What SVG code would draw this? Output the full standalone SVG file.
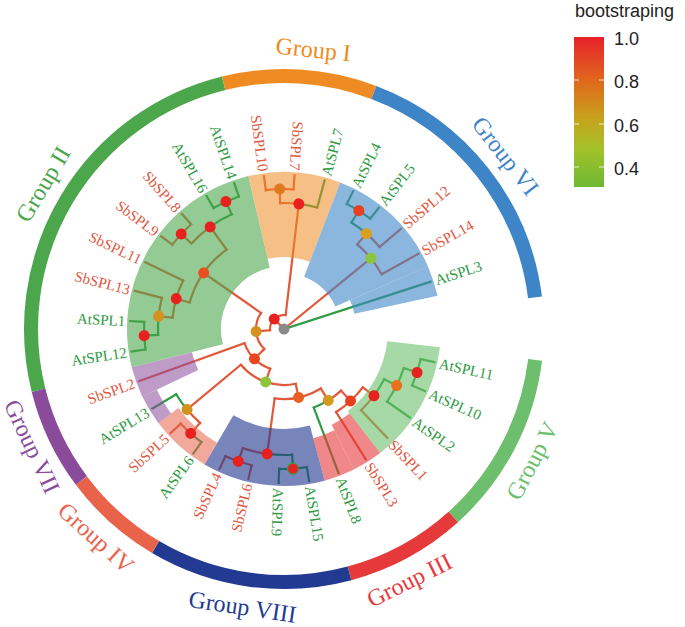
<svg xmlns="http://www.w3.org/2000/svg" width="685" height="627" viewBox="0 0 685 627">
<defs>
<linearGradient id="bs" x1="0" y1="0" x2="0" y2="1">
<stop offset="0" stop-color="#E8202A"/>
<stop offset="0.3" stop-color="#DF6A1C"/>
<stop offset="0.55" stop-color="#C6A41C"/>
<stop offset="0.75" stop-color="#A2C22A"/>
<stop offset="1" stop-color="#6CB832"/>
</linearGradient>
<style>
.e{fill:none;stroke-width:2.2;stroke-linecap:square}
.r{stroke:#E4583A}
.g{stroke:#2E9C45}
.hl{fill:none}
.ring{fill:none;stroke-width:14}
.sb{fill:#E2573F;font-family:"Liberation Serif",serif;font-size:15px}
.at{fill:#2F9A42;font-family:"Liberation Serif",serif;font-size:15px}
.grp{font-family:"Liberation Serif",serif;font-size:24px;text-anchor:middle;dominant-baseline:central}
.leg{font-family:"Liberation Sans",Arial,sans-serif;font-size:18px;fill:#222}
</style>
</defs>
<rect width="685" height="627" fill="#fff"/>
<g transform="translate(284,329)">
<!-- outer ring -->
<g id="ring">
<circle class="ring" r="253" stroke="#4CA64B" pathLength="360" stroke-dasharray="90.2 360" transform="rotate(166)"/>
<circle class="ring" r="253" stroke="#EE8B22" pathLength="360" stroke-dasharray="34.6 360" transform="rotate(256.2)"/>
<circle class="ring" r="253" stroke="#3D85C6" pathLength="360" stroke-dasharray="62 360" transform="rotate(290.8)"/>
<circle class="ring" r="253" stroke="#6DBF6D" pathLength="360" stroke-dasharray="41 360" transform="rotate(7)"/>
<circle class="ring" r="253" stroke="#E6393B" pathLength="360" stroke-dasharray="27 360" transform="rotate(48)"/>
<circle class="ring" r="253" stroke="#233A92" pathLength="360" stroke-dasharray="45.5 360" transform="rotate(75)"/>
<circle class="ring" r="253" stroke="#E8634A" pathLength="360" stroke-dasharray="22.7 360" transform="rotate(120.5)"/>
<circle class="ring" r="253" stroke="#8B4B9B" pathLength="360" stroke-dasharray="22.8 360" transform="rotate(143.2)"/>
</g>
<g id="edges">
<!-- arcs -->
<circle class="e r" r="14" pathLength="360" stroke-dasharray="101.95 360" transform="rotate(174.80)"/>
<circle class="e r" r="28" pathLength="360" stroke-dasharray="80.26 360" transform="rotate(134.67)"/>
<circle class="e r" r="42" pathLength="360" stroke-dasharray="51.08 360" transform="rotate(109.13)"/>
<circle class="e r" r="56" pathLength="360" stroke-dasharray="62.36 360" transform="rotate(77.95)"/>
<circle class="e r" r="70" pathLength="360" stroke-dasharray="39.44 360" transform="rotate(58.24)"/>
<circle class="e r" r="84" pathLength="360" stroke-dasharray="11.02 360" transform="rotate(47.22)"/>
<circle class="e g" r="84" pathLength="360" stroke-dasharray="11.01 360" transform="rotate(58.24)"/>
<circle class="e r" r="98" pathLength="360" stroke-dasharray="21.32 360" transform="rotate(36.56)"/>
<circle class="e g" r="112" pathLength="360" stroke-dasharray="9.95 360" transform="rotate(26.61)"/>
<circle class="e r" r="112" pathLength="360" stroke-dasharray="9.95 360" transform="rotate(36.56)"/>
<circle class="e g" r="126" pathLength="360" stroke-dasharray="17.05 360" transform="rotate(18.09)"/>
<circle class="e g" r="140" pathLength="360" stroke-dasharray="11.37 360" transform="rotate(12.40)"/>
<circle class="e g" r="126" pathLength="360" stroke-dasharray="11.37 360" transform="rotate(86.31)"/>
<circle class="e r" r="126" pathLength="360" stroke-dasharray="11.37 360" transform="rotate(97.68)"/>
<circle class="e g" r="140" pathLength="360" stroke-dasharray="11.37 360" transform="rotate(80.62)"/>
<circle class="e r" r="140" pathLength="360" stroke-dasharray="11.37 360" transform="rotate(103.36)"/>
<circle class="e r" r="126" pathLength="360" stroke-dasharray="8.52 360" transform="rotate(131.79)"/>
<circle class="e g" r="126" pathLength="360" stroke-dasharray="8.53 360" transform="rotate(140.31)"/>
<circle class="e g" r="140" pathLength="360" stroke-dasharray="5.69 360" transform="rotate(126.10)"/>
<circle class="e r" r="140" pathLength="360" stroke-dasharray="5.68 360" transform="rotate(131.79)"/>
<circle class="e r" r="98" pathLength="360" stroke-dasharray="38.38 360" transform="rotate(195.74)"/>
<circle class="e r" r="112" pathLength="360" stroke-dasharray="19.90 360" transform="rotate(185.79)"/>
<circle class="e g" r="126" pathLength="360" stroke-dasharray="8.52 360" transform="rotate(177.27)"/>
<circle class="e r" r="126" pathLength="360" stroke-dasharray="8.53 360" transform="rotate(185.79)"/>
<circle class="e g" r="140" pathLength="360" stroke-dasharray="11.37 360" transform="rotate(171.58)"/>
<circle class="e r" r="126" pathLength="360" stroke-dasharray="11.37 360" transform="rotate(222.75)"/>
<circle class="e g" r="126" pathLength="360" stroke-dasharray="11.37 360" transform="rotate(234.12)"/>
<circle class="e r" r="140" pathLength="360" stroke-dasharray="11.37 360" transform="rotate(217.06)"/>
<circle class="e g" r="140" pathLength="360" stroke-dasharray="11.37 360" transform="rotate(239.80)"/>
<circle class="e r" r="126" pathLength="360" stroke-dasharray="8.52 360" transform="rotate(268.23)"/>
<circle class="e g" r="126" pathLength="360" stroke-dasharray="8.53 360" transform="rotate(276.75)"/>
<circle class="e r" r="140" pathLength="360" stroke-dasharray="11.37 360" transform="rotate(262.54)"/>
<circle class="e r" r="112" pathLength="360" stroke-dasharray="19.90 360" transform="rotate(310.86)"/>
<circle class="e g" r="126" pathLength="360" stroke-dasharray="8.52 360" transform="rotate(302.34)"/>
<circle class="e r" r="126" pathLength="360" stroke-dasharray="8.53 360" transform="rotate(310.86)"/>
<circle class="e g" r="140" pathLength="360" stroke-dasharray="11.37 360" transform="rotate(296.65)"/>
<!-- red radials -->
<g class="e r">
<line x1="0" x2="14" transform="rotate(225.78)"/>
<line x1="0" x2="112" transform="rotate(320.81)"/>
<line x1="14" x2="28" transform="rotate(174.80)"/>
<line x1="14" x2="126" transform="rotate(276.75)"/>
<line x1="28" x2="42" transform="rotate(134.67)"/>
<line x1="28" x2="98" transform="rotate(214.93)"/>
<line x1="42" x2="56" transform="rotate(109.13)"/>
<line x1="42" x2="154" transform="rotate(160.21)"/>
<line x1="56" x2="70" transform="rotate(77.95)"/>
<line x1="56" x2="126" transform="rotate(140.31)"/>
<line x1="70" x2="84" transform="rotate(58.24)"/>
<line x1="70" x2="126" transform="rotate(97.68)"/>
<line x1="84" x2="98" transform="rotate(47.22)"/>
<line x1="98" x2="112" transform="rotate(36.56)"/>
<line x1="98" x2="154" transform="rotate(57.88)"/>
<line x1="112" x2="150" transform="rotate(46.51)"/>
<line x1="126" x2="140" transform="rotate(109.05)"/>
<line x1="140" x2="154" transform="rotate(103.36)"/>
<line x1="140" x2="154" transform="rotate(114.73)"/>
<line x1="126" x2="140" transform="rotate(131.79)"/>
<line x1="140" x2="154" transform="rotate(137.47)"/>
<line x1="98" x2="112" transform="rotate(195.74)"/>
<line x1="98" x2="126" transform="rotate(234.12)"/>
<line x1="112" x2="126" transform="rotate(185.79)"/>
<line x1="112" x2="154" transform="rotate(205.69)"/>
<line x1="126" x2="154" transform="rotate(194.32)"/>
<line x1="126" x2="140" transform="rotate(222.75)"/>
<line x1="140" x2="154" transform="rotate(217.06)"/>
<line x1="140" x2="154" transform="rotate(228.43)"/>
<line x1="126" x2="140" transform="rotate(268.23)"/>
<line x1="140" x2="154" transform="rotate(262.54)"/>
<line x1="140" x2="154" transform="rotate(273.91)"/>
<line x1="112" x2="126" transform="rotate(310.86)"/>
<line x1="112" x2="154" transform="rotate(330.76)"/>
<line x1="126" x2="154" transform="rotate(319.39)"/>
</g>
<g class="e g">
<line x1="0" x2="154" transform="rotate(342.13)"/>
<line x1="84" x2="154" transform="rotate(69.25)"/>
<line x1="112" x2="126" transform="rotate(26.61)"/>
<line x1="126" x2="140" transform="rotate(18.09)"/>
<line x1="126" x2="154" transform="rotate(35.14)"/>
<line x1="140" x2="154" transform="rotate(12.40)"/>
<line x1="140" x2="154" transform="rotate(23.77)"/>
<line x1="126" x2="140" transform="rotate(86.31)"/>
<line x1="140" x2="154" transform="rotate(80.62)"/>
<line x1="140" x2="154" transform="rotate(91.99)"/>
<line x1="126" x2="154" transform="rotate(148.84)"/>
<line x1="140" x2="154" transform="rotate(126.10)"/>
<line x1="126" x2="140" transform="rotate(177.27)"/>
<line x1="140" x2="154" transform="rotate(171.58)"/>
<line x1="140" x2="154" transform="rotate(182.95)"/>
<line x1="126" x2="140" transform="rotate(245.49)"/>
<line x1="140" x2="154" transform="rotate(239.80)"/>
<line x1="140" x2="154" transform="rotate(251.17)"/>
<line x1="126" x2="154" transform="rotate(285.28)"/>
<line x1="126" x2="140" transform="rotate(302.34)"/>
<line x1="140" x2="154" transform="rotate(296.65)"/>
<line x1="140" x2="154" transform="rotate(308.02)"/>
</g>
</g>
<!-- clade highlights (translucent) -->
<g id="highlights" class="hl">
<circle r="130.5" stroke="#6ABF69" stroke-opacity="0.6" stroke-width="53" pathLength="360" stroke-dasharray="45.5 360" transform="rotate(6.7)"/>
<circle r="132" stroke="#E6393B" stroke-opacity="0.6" stroke-width="50" pathLength="360" stroke-dasharray="11.36 360" transform="rotate(52.2)"/>
<circle r="135" stroke="#E6393B" stroke-opacity="0.6" stroke-width="44" pathLength="360" stroke-dasharray="11.44 360" transform="rotate(63.56)"/>
<circle r="128.5" stroke="#233A92" stroke-opacity="0.62" stroke-width="57" pathLength="360" stroke-dasharray="45.4 360" transform="rotate(75)"/>
<circle r="144.5" stroke="#E8634A" stroke-opacity="0.55" stroke-width="25" pathLength="360" stroke-dasharray="22.8 360" transform="rotate(120.4)"/>
<circle r="149" stroke="#8B4B9B" stroke-opacity="0.55" stroke-width="16" pathLength="360" stroke-dasharray="11.3 360" transform="rotate(143.2)"/>
<circle r="126" stroke="#8B4B9B" stroke-opacity="0.55" stroke-width="62" pathLength="360" stroke-dasharray="11.4 360" transform="rotate(154.5)"/>
<circle r="110" stroke="#4CA64B" stroke-opacity="0.6" stroke-width="94" pathLength="360" stroke-dasharray="91 360" transform="rotate(165.9)"/>
<circle r="114.5" stroke="#EE8B22" stroke-opacity="0.55" stroke-width="85" pathLength="360" stroke-dasharray="34.1 360" transform="rotate(256.9)"/>
<circle r="106.5" stroke="#3D85C6" stroke-opacity="0.6" stroke-width="101" pathLength="360" stroke-dasharray="45.4 360" transform="rotate(291)"/>
<circle r="114.5" stroke="#3D85C6" stroke-opacity="0.6" stroke-width="85" pathLength="360" stroke-dasharray="11.4 360" transform="rotate(336.4)"/>
</g>
<!-- internal nodes -->
<g id="root"><circle r="5.5" fill="#8A8A8A"/></g>
<g id="N1"><circle cx="14" r="5.5" fill="#E8201E" transform="rotate(225.78)"/></g>
<g id="nU"><circle cx="28" r="5.5" fill="#D4921E" transform="rotate(174.80)"/></g>
<g id="nM"><circle cx="42" r="5.5" fill="#E8461E" transform="rotate(134.67)"/></g>
<g id="nL"><circle cx="56" r="5.5" fill="#8CC43C" transform="rotate(109.13)"/></g>
<g id="nI"><circle cx="70" r="5.5" fill="#E8601E" transform="rotate(77.95)"/></g>
<g id="nE"><circle cx="84" r="5.5" fill="#D49A1E" transform="rotate(58.24)"/></g>
<g id="nD"><circle cx="98" r="5.5" fill="#E8401E" transform="rotate(47.22)"/></g>
<g id="nC"><circle cx="112" r="5.5" fill="#E8201E" transform="rotate(36.56)"/></g>
<g id="nB"><circle cx="126" r="5.5" fill="#E8701E" transform="rotate(26.61)"/></g>
<g id="nA"><circle cx="140" r="5.5" fill="#E8201E" transform="rotate(18.09)"/></g>
<g id="nH"><circle cx="126" r="5.5" fill="#E8201E" transform="rotate(97.68)"/></g>
<g id="nF"><circle cx="140" r="5.5" fill="#E8201E" stroke="#3A9A48" stroke-width="1.2" transform="rotate(86.31)"/></g>
<g id="nG"><circle cx="140" r="5.5" fill="#E8201E" transform="rotate(109.05)"/></g>
<g id="nK"><circle cx="126" r="5.5" fill="#D4921E" transform="rotate(140.31)"/></g>
<g id="nJ"><circle cx="140" r="5.5" fill="#E8201E" transform="rotate(131.79)"/></g>
<g id="nT"><circle cx="98" r="5.5" fill="#E8501E" transform="rotate(214.93)"/></g>
<g id="nP"><circle cx="112" r="5.5" fill="#E8201E" transform="rotate(195.74)"/></g>
<g id="nO"><circle cx="126" r="5.5" fill="#D4921E" transform="rotate(185.79)"/></g>
<g id="nN"><circle cx="140" r="5.5" fill="#E8201E" transform="rotate(177.27)"/></g>
<g id="nS"><circle cx="126" r="5.5" fill="#E8201E" transform="rotate(234.12)"/></g>
<g id="nQ"><circle cx="140" r="5.5" fill="#E8201E" transform="rotate(222.75)"/></g>
<g id="nR"><circle cx="140" r="5.5" fill="#E8201E" transform="rotate(245.49)"/></g>
<g id="nW"><circle cx="126" r="5.5" fill="#E8201E" transform="rotate(276.75)"/></g>
<g id="nV"><circle cx="140" r="5.5" fill="#E07A1E" transform="rotate(268.23)"/></g>
<g id="nZ"><circle cx="112" r="5.5" fill="#8CC43C" transform="rotate(320.81)"/></g>
<g id="nY"><circle cx="126" r="5.5" fill="#D8A01E" transform="rotate(310.86)"/></g>
<g id="nX"><circle cx="140" r="5.5" fill="#E8401E" transform="rotate(302.34)"/></g>
<!-- leaf labels -->
<g id="AtSPL11"><text class="at" x="159" dy=".35em" transform="rotate(12.40)">AtSPL11</text></g>
<g id="AtSPL10"><text class="at" x="159" dy=".35em" transform="rotate(23.77)">AtSPL10</text></g>
<g id="AtSPL2"><text class="at" x="159" dy=".35em" transform="rotate(35.14)">AtSPL2</text></g>
<g id="SbSPL1"><text class="sb" x="156" dy=".35em" transform="rotate(46.51)">SbSPL1</text></g>
<g id="SbSPL3"><text class="sb" x="159" dy=".35em" transform="rotate(57.88)">SbSPL3</text></g>
<g id="AtSPL8"><text class="at" x="159" dy=".35em" transform="rotate(69.25)">AtSPL8</text></g>
<g id="AtSPL15"><text class="at" x="159" dy=".35em" transform="rotate(80.62)">AtSPL15</text></g>
<g id="AtSPL9"><text class="at" x="159" dy=".35em" transform="rotate(91.99)">AtSPL9</text></g>
<g id="SbSPL6"><text class="sb" text-anchor="end" dy=".35em" transform="rotate(103.36) translate(159,0) rotate(180)">SbSPL6</text></g>
<g id="SbSPL4"><text class="sb" text-anchor="end" dy=".35em" transform="rotate(114.73) translate(159,0) rotate(180)">SbSPL4</text></g>
<g id="AtSPL6"><text class="at" text-anchor="end" dy=".35em" transform="rotate(126.10) translate(159,0) rotate(180)">AtSPL6</text></g>
<g id="SbSPL5"><text class="sb" text-anchor="end" dy=".35em" transform="rotate(137.47) translate(159,0) rotate(180)">SbSPL5</text></g>
<g id="AtSPL13"><text class="at" text-anchor="end" dy=".35em" transform="rotate(148.84) translate(159,0) rotate(180)">AtSPL13</text></g>
<g id="SbSPL2"><text class="sb" text-anchor="end" dy=".35em" transform="rotate(160.21) translate(159,0) rotate(180)">SbSPL2</text></g>
<g id="AtSPL12"><text class="at" text-anchor="end" dy=".35em" transform="rotate(171.58) translate(159,0) rotate(180)">AtSPL12</text></g>
<g id="AtSPL1"><text class="at" text-anchor="end" dy=".35em" transform="rotate(182.95) translate(159,0) rotate(180)">AtSPL1</text></g>
<g id="SbSPL13"><text class="sb" text-anchor="end" dy=".35em" transform="rotate(194.32) translate(159,0) rotate(180)">SbSPL13</text></g>
<g id="SbSPL11"><text class="sb" text-anchor="end" dy=".35em" transform="rotate(205.69) translate(159,0) rotate(180)">SbSPL11</text></g>
<g id="SbSPL9"><text class="sb" text-anchor="end" dy=".35em" transform="rotate(217.06) translate(159,0) rotate(180)">SbSPL9</text></g>
<g id="SbSPL8"><text class="sb" text-anchor="end" dy=".35em" transform="rotate(228.43) translate(159,0) rotate(180)">SbSPL8</text></g>
<g id="AtSPL16"><text class="at" text-anchor="end" dy=".35em" transform="rotate(239.80) translate(159,0) rotate(180)">AtSPL16</text></g>
<g id="AtSPL14"><text class="at" text-anchor="end" dy=".35em" transform="rotate(251.17) translate(159,0) rotate(180)">AtSPL14</text></g>
<g id="SbSPL10"><text class="sb" text-anchor="end" dy=".35em" transform="rotate(262.54) translate(159,0) rotate(180)">SbSPL10</text></g>
<g id="SbSPL7"><text class="sb" text-anchor="end" dy=".35em" transform="rotate(273.91) translate(159,0) rotate(180)">SbSPL7</text></g>
<g id="AtSPL7"><text class="at" x="159" dy=".35em" transform="rotate(285.28)">AtSPL7</text></g>
<g id="AtSPL4"><text class="at" x="159" dy=".35em" transform="rotate(296.65)">AtSPL4</text></g>
<g id="AtSPL5"><text class="at" x="159" dy=".35em" transform="rotate(308.02)">AtSPL5</text></g>
<g id="SbSPL12"><text class="sb" x="159" dy=".35em" transform="rotate(319.39)">SbSPL12</text></g>
<g id="SbSPL14"><text class="sb" x="159" dy=".35em" transform="rotate(330.76)">SbSPL14</text></g>
<g id="AtSPL3"><text class="at" x="159" dy=".35em" transform="rotate(342.13)">AtSPL3</text></g>
<!-- group labels -->
<g id="group-labels">
<text class="grp" fill="#EE8B22" transform="rotate(276) translate(281,0) rotate(90)">Group I</text>
<text class="grp" fill="#3D85C6" transform="rotate(322) translate(281,0) rotate(90)">Group VI</text>
<text class="grp" fill="#6DBF6D" transform="rotate(28) translate(281,0) rotate(-90)">Group V</text>
<text class="grp" fill="#E6393B" transform="rotate(63.5) translate(281,0) rotate(-90)">Group III</text>
<text class="grp" fill="#233A92" transform="rotate(98.5) translate(281,0) rotate(-90)">Group VIII</text>
<text class="grp" fill="#E8634A" transform="rotate(132) translate(281,0) rotate(-90)">Group IV</text>
<text class="grp" fill="#8B4B9B" transform="rotate(155) translate(278,0) rotate(-90)">Group VII</text>
<text class="grp" fill="#4CA64B" transform="rotate(211) translate(281,0) rotate(90)">Group II</text>
</g>
</g>
<!-- legend -->
<g id="legend">
<text class="leg" x="575" y="17">bootstraping</text>
<rect x="574" y="37" width="30" height="150" fill="url(#bs)"/>
<g stroke="#fff" stroke-width="1" opacity="0.8">
<line x1="574" y1="80" x2="579" y2="80"/><line x1="599" y1="80" x2="604" y2="80"/>
<line x1="574" y1="124" x2="579" y2="124"/><line x1="599" y1="124" x2="604" y2="124"/>
<line x1="574" y1="167" x2="579" y2="167"/><line x1="599" y1="167" x2="604" y2="167"/>
</g>
<text class="leg" x="614" y="44.5">1.0</text>
<text class="leg" x="614" y="88">0.8</text>
<text class="leg" x="614" y="131.5">0.6</text>
<text class="leg" x="614" y="174.5">0.4</text>
</g>
</svg>
